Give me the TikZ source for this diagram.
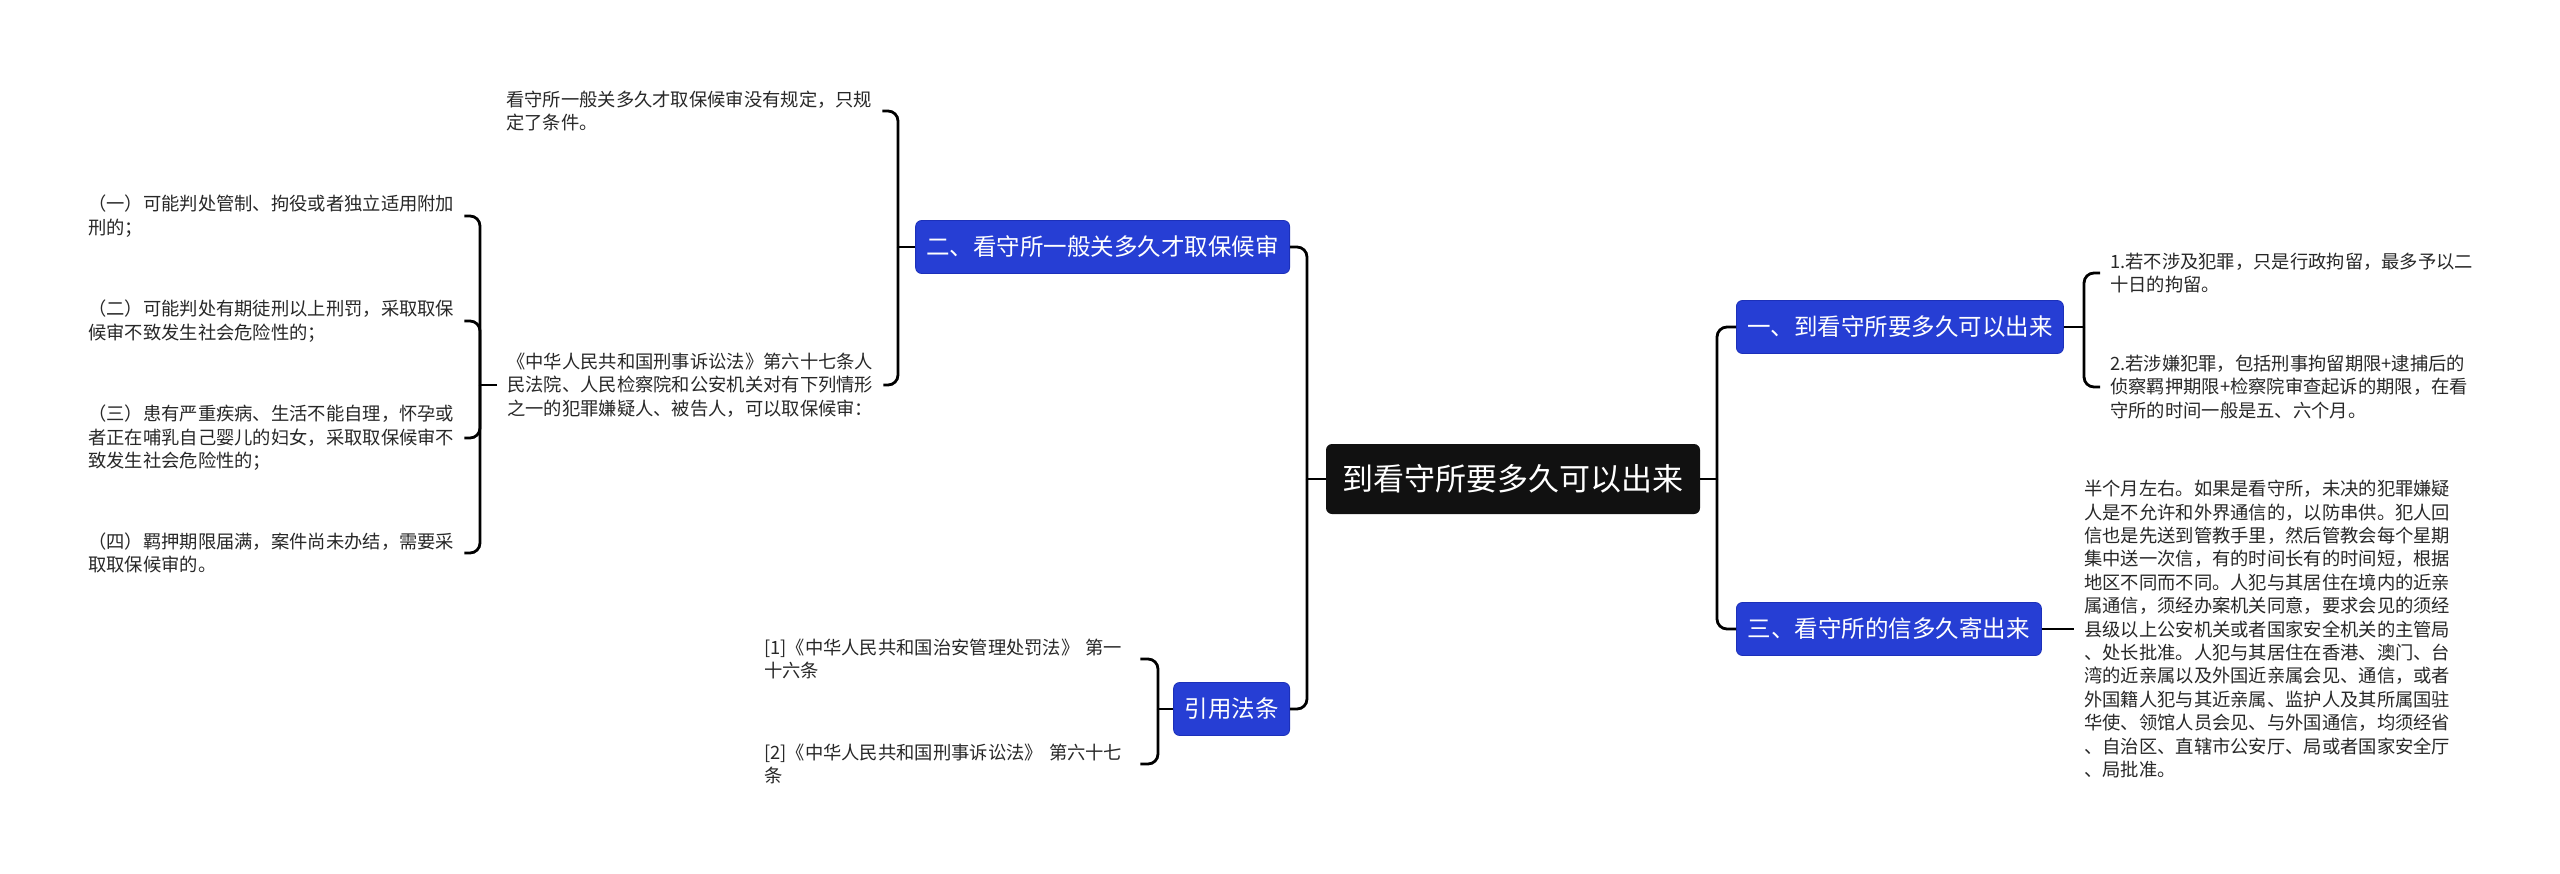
\documentclass[tikz,border=0pt]{standalone}
\usepackage{fontspec}
\setmainfont{Noto Sans CJK SC}
\definecolor{bblue}{RGB}{38,62,212}
\definecolor{bborder}{RGB}{28,48,185}
\definecolor{rootc}{RGB}{17,17,17}
\definecolor{leaftext}{RGB}{40,40,40}
\tikzset{
  conn/.style={line width=2.8pt, draw=black},
  rc/.style={conn, rounded corners=10pt},
  rootbox/.style={fill=rootc, text=white, rounded corners=6pt, minimum width=374pt, minimum height=70pt, inner sep=0pt, font=\fontsize{31pt}{36pt}\selectfont},
  branchbox/.style={fill=bblue, draw=bborder, line width=0.8pt, text=white, rounded corners=6pt, minimum height=53pt, inner sep=0pt, font=\fontsize{23.5pt}{28pt}\selectfont},
  leaf/.style={text=leaftext, align=left, text width=366pt, inner xsep=10pt, inner ysep=0pt, font=\fontsize{18.3pt}{23.4pt}\selectfont},
}
\begin{document}
\begin{tikzpicture}[x=1pt,y=-1pt]
\useasboundingbox (0,0) rectangle (2560,873);
\fill[white] (0,0) rectangle (2560,873);

% root and branches
\node[rootbox] (root) at (1513,479) {到看守所要多久可以出来};
\node[branchbox, minimum width=374pt, anchor=east] (b2) at (1290,247) {二、看守所一般关多久才取保候审};
\node[branchbox, minimum width=116pt, anchor=east] (b4) at (1290,709) {引用法条};
\node[branchbox, minimum width=327pt, anchor=west] (b1) at (1736,327) {一、到看守所要多久可以出来};
\node[branchbox, minimum width=305pt, anchor=west] (b3) at (1736,629) {三、看守所的信多久寄出来};

% right leaves
\node[leaf, anchor=west] (l11) at (2100,273) {1.若不涉及犯罪，只是行政拘留，最多予以二\\十日的拘留。};
\node[leaf, anchor=west] (l12) at (2100,387) {2.若涉嫌犯罪，包括刑事拘留期限+逮捕后的\\侦察羁押期限+检察院审查起诉的期限，在看\\守所的时间一般是五、六个月。};
\node[leaf, anchor=west] (l31) at (2074,629) {半个月左右。如果是看守所，未决的犯罪嫌疑\\人是不允许和外界通信的，以防串供。犯人回\\信也是先送到管教手里，然后管教会每个星期\\集中送一次信，有的时间长有的时间短，根据\\地区不同而不同。人犯与其居住在境内的近亲\\属通信，须经办案机关同意，要求会见的须经\\县级以上公安机关或者国家安全机关的主管局\\、处长批准。人犯与其居住在香港、澳门、台\\湾的近亲属以及外国近亲属会见、通信，或者\\外国籍人犯与其近亲属、监护人及其所属国驻\\华使、领馆人员会见、与外国通信，均须经省\\、自治区、直辖市公安厅、局或者国家安全厅\\、局批准。};

% left leaves
\node[leaf, anchor=west] (l21) at (496,111) {看守所一般关多久才取保候审没有规定，只规\\定了条件。};
\node[leaf, anchor=west] (l22) at (497,385) {《中华人民共和国刑事诉讼法》第六十七条人\\民法院、人民检察院和公安机关对有下列情形\\之一的犯罪嫌疑人、被告人，可以取保候审：};
\node[leaf, anchor=west] (l221) at (78,216) {（一）可能判处管制、拘役或者独立适用附加\\刑的；};
\node[leaf, anchor=west] (l222) at (78,321) {（二）可能判处有期徒刑以上刑罚，采取取保\\候审不致发生社会危险性的；};
\node[leaf, anchor=west] (l223) at (78,438) {（三）患有严重疾病、生活不能自理，怀孕或\\者正在哺乳自己婴儿的妇女，采取取保候审不\\致发生社会危险性的；};
\node[leaf, anchor=west] (l224) at (78,553) {（四）羁押期限届满，案件尚未办结，需要采\\取取保候审的。};
\node[leaf, anchor=west] (l41) at (754,659) {[1]《中华人民共和国治安管理处罚法》~第一\\十六条};
\node[leaf, anchor=west] (l42) at (754,764) {[2]《中华人民共和国刑事诉讼法》~第六十七\\条};

% connectors: root
\coordinate (jR) at (1717,479);
\draw[conn] (root.east) -- (jR);
\draw[rc] (jR) |- (b1.west);
\draw[rc] (jR) |- (b3.west);
\coordinate (jL) at (1307,479);
\draw[conn] (root.west) -- (jL);
\draw[rc] (jL) |- (b2.east);
\draw[rc] (jL) |- (b4.east);

% branch one
\coordinate (j1) at (2084,327);
\draw[conn] (b1.east) -- (j1);
\draw[rc] (j1) |- (l11.west);
\draw[rc] (j1) |- (l12.west);

% branch three
\draw[conn] (b3.east) -- (l31.west);

% branch two
\coordinate (j2) at (898,247);
\draw[conn] (b2.west) -- (j2);
\draw[rc] (j2) |- (l21.east);
\draw[rc] (j2) |- (l22.east);
\coordinate (j22) at (480,385);
\draw[conn] (l22.west) -- (j22);
\draw[rc] (j22) |- (l221.east);
\draw[rc] (j22) |- (l222.east);
\draw[rc] (j22) |- (l223.east);
\draw[rc] (j22) |- (l224.east);

% citations
\coordinate (j4) at (1158,709);
\draw[conn] (b4.west) -- (j4);
\draw[rc] (j4) |- (l41.east);
\draw[rc] (j4) |- (l42.east);
\end{tikzpicture}
\end{document}
